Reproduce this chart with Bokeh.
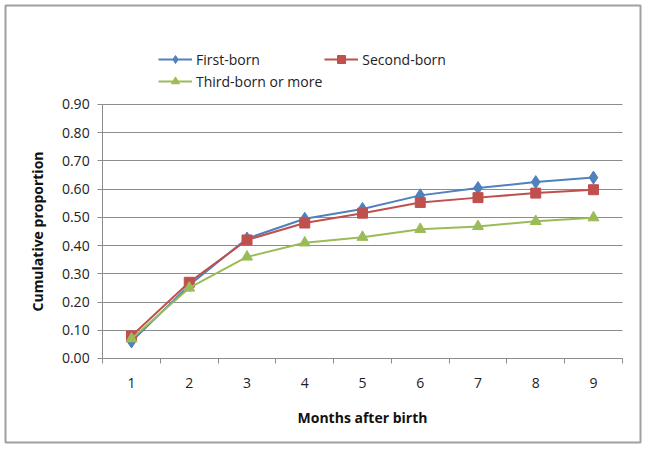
from bokeh.plotting import figure
from bokeh.models import (FixedTicker, NumeralTickFormatter, Legend, LegendItem, Range1d)
from bokeh.embed import file_html
from bokeh.resources import INLINE

months = [1, 2, 3, 4, 5, 6, 7, 8, 9]
first_born = [0.06, 0.26, 0.425, 0.495, 0.53, 0.578, 0.604, 0.625, 0.641]
second_born = [0.08, 0.27, 0.42, 0.48, 0.515, 0.553, 0.570, 0.586, 0.598]
third_born = [0.07, 0.25, 0.36, 0.41, 0.43, 0.458, 0.468, 0.486, 0.499]
y_ticks = [0.0, 0.1, 0.2, 0.3, 0.4, 0.5, 0.6, 0.7, 0.8, 0.9]

FONT = "Open Sans"
GRID = "#8c8c8c"

# frame = outer chart box; plot area sits inside it
p = figure(width=643, height=447, output_backend="svg", toolbar_location=None,
           x_range=Range1d(-1.182, 9.814), y_range=Range1d(-0.2977, 1.2508),
           min_border_left=5, min_border_right=3, min_border_top=5,
           min_border_bottom=5)
p.outline_line_color = "#a0a0a0"
p.outline_line_width = 2
p.xgrid.grid_line_color = None
p.ygrid.grid_line_color = GRID
p.ygrid.grid_line_width = 1
p.ygrid.bounds = (0, 0.9)
p.ygrid.cross_bounds = (0.5, 9.5)

p.xaxis.fixed_location = 0
p.xaxis.bounds = (0.5, 9.5)
p.xaxis.ticker = FixedTicker(ticks=months, minor_ticks=[m - 0.5 for m in months] + [9.5])
p.xaxis.major_tick_line_color = None
p.xaxis.minor_tick_in = 0
p.xaxis.minor_tick_out = 5
p.xaxis.minor_tick_line_color = GRID
p.xaxis.axis_line_color = GRID
p.xaxis.major_label_standoff = 14
p.xaxis.axis_label = "Months after birth"
p.xaxis.axis_label_standoff = 16

p.yaxis.fixed_location = 0.5
p.yaxis.bounds = (0, 0.9)
p.yaxis.ticker = FixedTicker(ticks=y_ticks, minor_ticks=[])
p.yaxis.formatter = NumeralTickFormatter(format="0.00")
p.yaxis.major_tick_in = 0
p.yaxis.major_tick_out = 5
p.yaxis.major_tick_line_color = GRID
p.yaxis.minor_tick_line_color = None
p.yaxis.axis_line_color = GRID
p.yaxis.major_label_standoff = 8
p.yaxis.axis_label = "Cumulative proportion"
p.yaxis.axis_label_standoff = 12

for ax in (p.xaxis, p.yaxis):
    ax.major_label_text_font = FONT
    ax.major_label_text_font_size = "14px"
    ax.major_label_text_color = "#222222"
    ax.axis_label_text_font = FONT
    ax.axis_label_text_font_size = "14px"
    ax.axis_label_text_font_style = "bold"
    ax.axis_label_text_color = "#111111"

blue, red, green = "#4F81BD", "#C0504D", "#9BBB59"
l1 = p.line(months, first_born, line_color=blue, line_width=2)
m1 = p.scatter(months, first_born, marker="diamond", size=13, fill_color=blue, line_color=blue)
l2 = p.line(months, second_born, line_color=red, line_width=2)
m2 = p.scatter(months, second_born, marker="square", size=10, fill_color=red, line_color=red)
l3 = p.line(months, third_born, line_color=green, line_width=2)
m3 = p.scatter(months, third_born, marker="triangle", size=11, fill_color=green, line_color=green)

# column-major filling: column 1 = First, Third; column 2 = Second
legend = Legend(items=[
    LegendItem(label="First-born", renderers=[l1, m1]),
    LegendItem(label="Third-born or more", renderers=[l3, m3]),
    LegendItem(label="Second-born", renderers=[l2, m2]),
], ncols=2, location=(153, 351), border_line_color=None, background_fill_alpha=0,
    label_text_font=FONT, label_text_font_size="14px", label_text_color="#222222",
    glyph_width=34, spacing=2, label_standoff=4, padding=0,
    margin=0, label_height=19)
p.add_layout(legend, "center")

open("out.html", "w").write(file_html(p, INLINE))
